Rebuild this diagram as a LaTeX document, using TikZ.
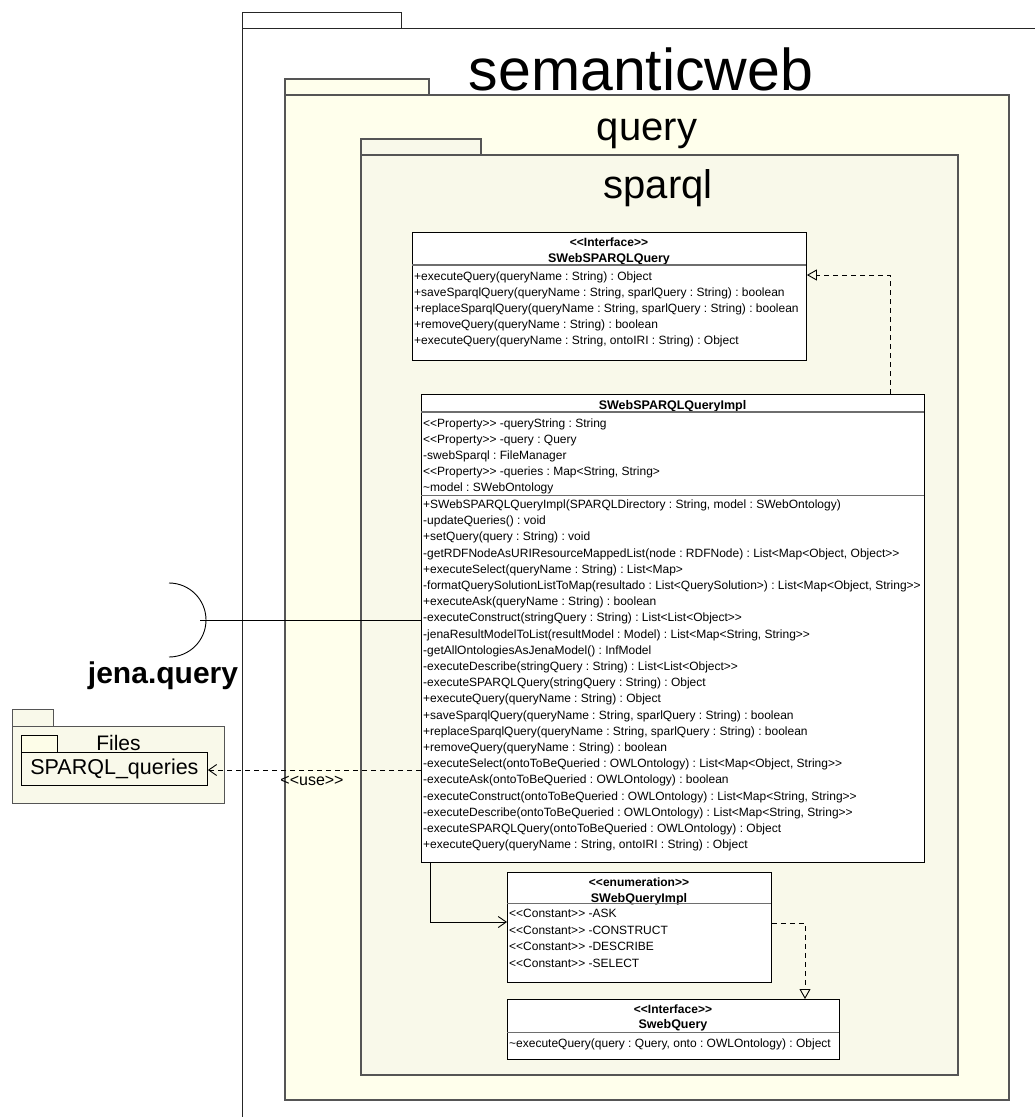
\documentclass[tikz,border=0pt]{standalone}
\usepackage{fontspec}
\setmainfont{Liberation Sans}[Ligatures=TeXOff]
\usetikzlibrary{arrows.meta}
\frenchspacing

\definecolor{queryfill}{RGB}{255,255,236}
\definecolor{sparqlfill}{RGB}{249,249,234}
\definecolor{innertab}{RGB}{253,253,232}
\definecolor{pkgline}{RGB}{85,85,85}
\definecolor{divline}{RGB}{110,110,110}

\tikzset{
  pkg/.style={draw=pkgline, line width=1.3pt},
  outerpkg/.style={draw=black!85, line width=1pt},
  clsbox/.style={draw=black, fill=white, line width=0.9pt, inner sep=0pt, anchor=north west},
  divider/.style={draw=divline, line width=1.1pt},
  member/.style={anchor=base west, inner sep=0pt, font=\frenchspacing\fontsize{12}{14}\selectfont},
  clsname/.style={anchor=base, inner sep=0pt, font=\bfseries\fontsize{12.5}{14}\selectfont},
  stereo/.style={anchor=base, inner sep=0pt, font=\bfseries\fontsize{12}{14}\selectfont},
  pkglabel/.style={anchor=base, inner sep=0pt},
  depline/.style={line width=0.9pt, dash pattern=on 5pt off 4pt},
  realize/.style={depline, -{Triangle[open, length=10pt, width=11pt]}},
  usearrow/.style={depline, -{Straight Barb[length=8pt, width=11pt]}},
  navarrow/.style={line width=0.9pt, -{Straight Barb[length=8pt, width=11pt]}},
}

\begin{document}
\begin{tikzpicture}[x=1pt, y=-1pt]
\useasboundingbox (0,0) rectangle (1035,1117);
\fill[white] (0,0) rectangle (1035,1117);

% ---- package semanticweb (open on the right and bottom) ----
\draw[outerpkg] (242,12) rectangle (401,28);
\draw[outerpkg] (1035,28) -- (242,28) -- (242,1117);

% ---- package query ----
\draw[pkg, fill=queryfill] (285,79) rectangle (429,95);
\draw[pkg, fill=queryfill] (285,95) rectangle (1009,1100);

% ---- package sparql ----
\draw[pkg, fill=sparqlfill] (361,139) rectangle (481,155);
\draw[pkg, fill=sparqlfill] (361,155) rectangle (958,1075);

\node[pkglabel, font=\fontsize{59}{60}\selectfont] (swlabel) at (641,90) {semanticweb};
\node[pkglabel, font=\fontsize{40}{42}\selectfont] (qlabel) at (647,140) {query};
\node[pkglabel, font=\fontsize{40}{42}\selectfont] (slabel) at (658,198) {sparql};

% ---- interface SWebSPARQLQuery ----
\node[clsbox, minimum width=394pt, minimum height=128pt] (iface) at (412,232) {};
\node[stereo] (iface-st) at (609,246) {<<Interface>>};
\node[clsname] (iface-nm) at (609,262) {SWebSPARQLQuery};
\draw[divider] (412,265) -- (806,265);
\foreach \t [count=\i from 0] in {
  +executeQuery(queryName : String) : Object,
  {+saveSparqlQuery(queryName : String, sparlQuery : String) : boolean},
  {+replaceSparqlQuery(queryName : String, sparlQuery : String) : boolean},
  +removeQuery(queryName : String) : boolean,
  {+executeQuery(queryName : String, ontoIRI : String) : Object}}
  \node[member] (iface-m\i) at (414,280.3+16*\i) {\t};

% ---- class SWebSPARQLQueryImpl ----
\node[clsbox, minimum width=503pt, minimum height=468pt] (impl) at (421,394) {};
\node[clsname] (impl-nm) at (672.5,409.3) {SWebSPARQLQueryImpl};
\draw[divider] (421,412) -- (924,412);
\foreach \t [count=\i from 0] in {
  <<Property>> -queryString : String,
  <<Property>> -query : Query,
  -swebSparql : FileManager,
  {<<Property>> -queries : Map<String, String>},
  \textasciitilde model : SWebOntology}
  \node[member] (impl-a\i) at (423,427.6+15.9*\i) {\t};
\draw[divider] (421,495.5) -- (924,495.5);
\foreach \t [count=\i from 0] in {
  {+SWebSPARQLQueryImpl(SPARQLDirectory : String, model : SWebOntology)},
  -updateQueries() : void,
  +setQuery(query : String) : void,
  {-getRDFNodeAsURIResourceMappedList(node : RDFNode) : List<Map<Object, Object>>},
  +executeSelect(queryName : String) : List<Map>,
  {-formatQuerySolutionListToMap(resultado : List<QuerySolution>) : List<Map<Object, String>>},
  +executeAsk(queryName : String) : boolean,
  -executeConstruct(stringQuery : String) : List<List<Object>>,
  {-jenaResultModelToList(resultModel : Model) : List<Map<String, String>>},
  -getAllOntologiesAsJenaModel() : InfModel,
  -executeDescribe(stringQuery : String) : List<List<Object>>,
  -executeSPARQLQuery(stringQuery : String) : Object,
  +executeQuery(queryName : String) : Object,
  {+saveSparqlQuery(queryName : String, sparlQuery : String) : boolean},
  {+replaceSparqlQuery(queryName : String, sparlQuery : String) : boolean},
  +removeQuery(queryName : String) : boolean,
  {-executeSelect(ontoToBeQueried : OWLOntology) : List<Map<Object, String>>},
  -executeAsk(ontoToBeQueried : OWLOntology) : boolean,
  {-executeConstruct(ontoToBeQueried : OWLOntology) : List<Map<String, String>>},
  {-executeDescribe(ontoToBeQueried : OWLOntology) : List<Map<String, String>>},
  -executeSPARQLQuery(ontoToBeQueried : OWLOntology) : Object,
  {+executeQuery(queryName : String, ontoIRI : String) : Object}}
  \node[member] (impl-m\i) at (423,508.4+16.2*\i) {\t};

% ---- enumeration SWebQueryImpl ----
\node[clsbox, minimum width=264pt, minimum height=110pt] (enum) at (507,872) {};
\node[stereo] (enum-st) at (639,886) {<<enumeration>>};
\node[clsname] (enum-nm) at (639,902) {SWebQueryImpl};
\draw[divider] (507,903.5) -- (771,903.5);
\foreach \t [count=\i from 0] in {
  <<Constant>> -ASK,
  <<Constant>> -CONSTRUCT,
  <<Constant>> -DESCRIBE,
  <<Constant>> -SELECT}
  \node[member] (enum-c\i) at (509,917.6+16.6*\i) {\t};

% ---- interface SwebQuery ----
\node[clsbox, minimum width=332pt, minimum height=60pt] (swq) at (507,999) {};
\node[stereo] (swq-st) at (673,1013) {<<Interface>>};
\node[clsname] (swq-nm) at (673,1028) {SwebQuery};
\draw[divider] (507,1032.5) -- (839,1032.5);
\node[member] (swq-m0) at (509,1047) {\textasciitilde executeQuery(query : Query, onto : OWLOntology) : Object};

% ---- package Files with SPARQL_queries ----
\draw[pkg, fill=sparqlfill, line width=1pt] (12,709) rectangle (53,726);
\draw[pkg, fill=sparqlfill, line width=1pt] (12,726) rectangle (224,803);
\draw[draw=black, fill=innertab, line width=0.9pt] (21,735) rectangle (57,752);
\node[pkglabel, font=\fontsize{21}{22}\selectfont] (fileslabel) at (118.5,750.5) {Files};
\node[draw=black, fill=sparqlfill, line width=0.9pt, anchor=north west, inner sep=0pt,
      minimum width=186pt, minimum height=33pt, font=\fontsize{21.5}{22}\selectfont]
      (sq) at (21,752) {SPARQL\_queries};

% ---- required interface jena.query (socket) ----
\coordinate (sockmouth) at (200,620);
\draw[line width=0.9pt] (169,583) arc[start angle=90, end angle=-90, radius=37pt];
\node[pkglabel, font=\bfseries\fontsize{30}{32}\selectfont] (jq) at (163,683) {jena.query};

% ---- connectors ----
\draw[line width=0.9pt] (sockmouth) -- (impl.west |- sockmouth);
\draw[realize] (impl.north -| 890,0) |- (iface.east |- 0,275);
\draw[navarrow] (impl.south -| 430,0) |- (enum.west |- 0,922);
\draw[realize] (enum.east |- 0,923) -| (swq.north -| 805,0);
\draw[usearrow] (impl.west |- 0,770) -- (sq.east |- 0,770);
\node[inner sep=0pt, font=\fontsize{16}{18}\selectfont] (uselbl) at (312,781) {<<use>>};

\end{tikzpicture}
\end{document}
